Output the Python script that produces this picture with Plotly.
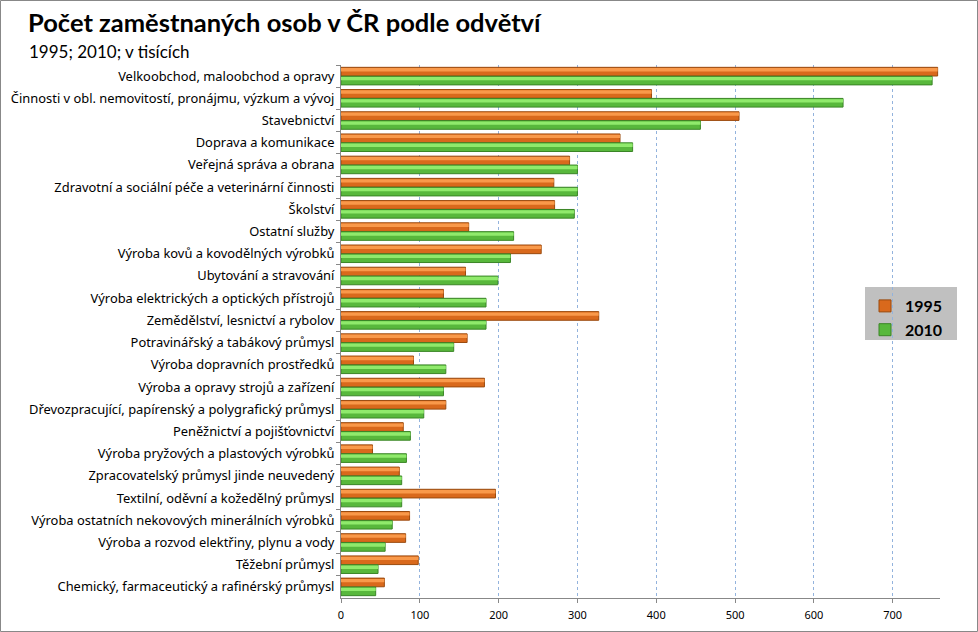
import plotly.graph_objects as go

categories = [
    "Velkoobchod, maloobchod a opravy",
    "Činnosti v obl. nemovitostí, pronájmu, výzkum a vývoj",
    "Stavebnictví",
    "Doprava a komunikace",
    "Veřejná správa a obrana",
    "Zdravotní a sociální péče a veterinární činnosti",
    "Školství",
    "Ostatní služby",
    "Výroba kovů a kovodělných výrobků",
    "Ubytování a stravování",
    "Výroba elektrických a optických přístrojů",
    "Zemědělství, lesnictví a rybolov",
    "Potravinářský a tabákový průmysl",
    "Výroba dopravních prostředků",
    "Výroba a opravy strojů a zařízení",
    "Dřevozpracující, papírenský a polygrafický průmysl",
    "Peněžnictví a pojišťovnictví",
    "Výroba pryžových a plastových výrobků",
    "Zpracovatelský průmysl jinde neuvedený",
    "Textilní, oděvní a kožedělný průmysl",
    "Výroba ostatních nekovových minerálních výrobků",
    "Výroba a rozvod elektřiny, plynu a vody",
    "Těžební průmysl",
    "Chemický, farmaceutický a rafinérský průmysl",
]

values_1995 = [757, 394, 505, 354, 290, 270, 271, 162, 254, 158, 130, 327,
               160, 92, 182, 133, 79, 40, 74, 196, 87, 82, 98, 55]
values_2010 = [750, 637, 456, 370, 300, 300, 296, 219, 215, 199, 184, 184,
               143, 133, 130, 105, 88, 83, 77, 77, 65, 56, 47, 44]

x_ticks = [0, 100, 200, 300, 400, 500, 600, 700]

W, H = 978, 632
L, R, T, B = 341, 940, 65, 598
pw, ph = R - L, B - T

def px(x):
    return (x - L) / pw

def py(y):
    return (B - y) / ph

BW = 0.39
fig = go.Figure()
# 1995 (upper bar of each pair)
fig.add_trace(go.Bar(
    y=categories, x=values_1995, name="1995", orientation="h",
    offset=-BW - 0.005, width=BW,
    marker=dict(color="#D9691C", line=dict(color="#9A4A0E", width=1)),
))
fig.add_trace(go.Bar(
    y=categories, x=values_1995, name="1995", orientation="h",
    offset=-BW + 0.03, width=0.15, showlegend=False, hoverinfo="skip",
    marker=dict(color="#F9994A", line=dict(width=0)),
))
# 2010 (lower bar of each pair)
fig.add_trace(go.Bar(
    y=categories, x=values_2010, name="2010", orientation="h",
    offset=0.005, width=BW,
    marker=dict(color="#58B83C", line=dict(color="#3A8526", width=1)),
))
fig.add_trace(go.Bar(
    y=categories, x=values_2010, name="2010", orientation="h",
    offset=0.04, width=0.15, showlegend=False, hoverinfo="skip",
    marker=dict(color="#90EA6C", line=dict(width=0)),
))

fig.update_layout(
    width=W, height=H,
    margin=dict(l=L, r=W - R, t=T, b=H - B, autoexpand=False),
    paper_bgcolor="white", plot_bgcolor="white",
    barmode="overlay",
    font=dict(family="Noto Sans", size=12, color="#000"),
    showlegend=True,
    legend=dict(
        x=px(865), y=py(289), xanchor="left", yanchor="top",
        bgcolor="rgba(0,0,0,0)", font=dict(family="Lato", size=16, color="#000", weight="bold"),
        traceorder="normal", itemwidth=30, tracegroupgap=4,
    ),
    xaxis=dict(
        range=[0, 760], tickvals=x_ticks, showgrid=True,
        gridcolor="#93B3DD", griddash="3px,3px", gridwidth=1,
        showline=True, linecolor="#888888", linewidth=1,
        ticks="outside", ticklen=4, tickcolor="#888888",
        zeroline=False, tickfont=dict(size=11), ticklabelstandoff=3,
    ),
    yaxis=dict(
        autorange="reversed", showline=True, linecolor="#888888", linewidth=1,
        ticks="outside", ticklen=4, tickcolor="#888888", tickson="boundaries",
        showgrid=False, tickfont=dict(size=12.9), ticklabelstandoff=3,
    ),
    annotations=[
        dict(text="<b>Počet zaměstnaných osob v ČR podle odvětví</b>", xref="paper", yref="paper",
             x=px(26), y=py(22), xanchor="left", yanchor="middle", showarrow=False,
             font=dict(family="Lato", size=25.5, color="#000")),
        dict(text="1995; 2010; v tisících", xref="paper", yref="paper",
             x=px(27), y=py(52), xanchor="left", yanchor="middle", showarrow=False,
             font=dict(family="Lato", size=17, color="#000")),
    ],
    shapes=[
        dict(type="rect", xref="paper", yref="paper",
             x0=px(865), x1=px(957), y0=py(287), y1=py(340),
             line=dict(width=0), fillcolor="#C0C0C0", layer="below"),
        dict(type="rect", xref="paper", yref="paper",
             x0=px(0.5), x1=px(977.5), y0=py(0.5), y1=py(631.5),
             line=dict(color="#888888", width=1), fillcolor="rgba(0,0,0,0)", layer="above"),
    ],
)

fig.write_html("out.html", config={"displayModeBar": False},
               post_script="document.body.style.margin='0';document.body.style.overflow='hidden';")
